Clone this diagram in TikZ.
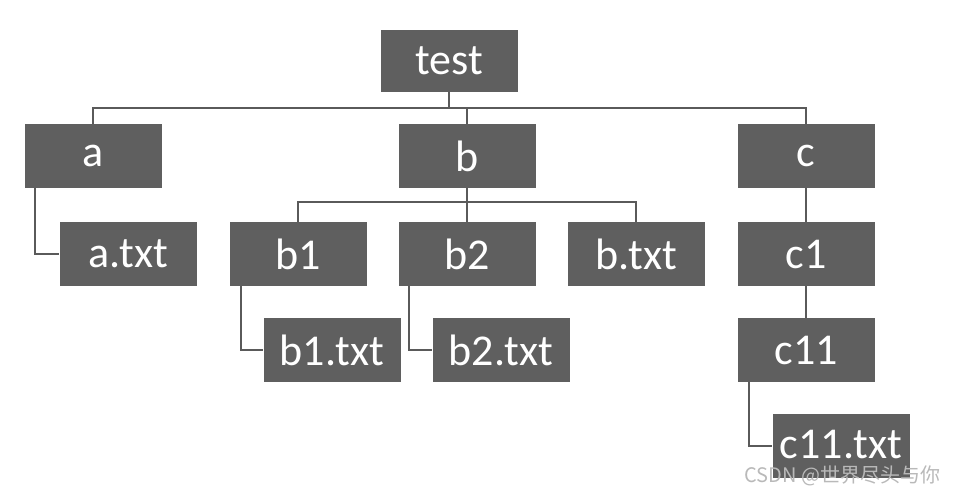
\documentclass[tikz,border=0pt]{standalone}
\usepackage{fontspec}
\setmainfont{Carlito}
\newfontfamily\cjkfont{Noto Sans CJK SC}
\definecolor{boxgray}{RGB}{95, 95, 95}
\definecolor{linegray}{RGB}{90, 90, 90}
\definecolor{markgray}{RGB}{185, 185, 185}
\usetikzlibrary{positioning}

\begin{document}
\begin{tikzpicture}[
        x=1pt, y=-1pt,
        box/.style={rectangle, fill=boxgray, text=white, minimum width=137pt,
                    minimum height=64pt, inner sep=0pt,
                    font=\fontsize{44}{48}\selectfont},
        link/.style={draw=linegray, line width=2pt}
      ]
        \useasboundingbox (0,0) rectangle (957,492);
        % top level
        \node[box, minimum height=62pt] (test) at (449,61) {test};
        \node[box] (a) at (93,156) {a};
        \node[box] (b) at (467,156) {b};
        \node[box] (c) at (806,156) {c};
        % second level
        \node[box] (atxt) at (128,254) {a.txt};
        \node[box] (b1) at (298,254) {b1};
        \node[box] (b2) at (467,254) {b2};
        \node[box] (btxt) at (636,254) {b.txt};
        \node[box] (c1) at (806,254) {c1};
        % third level
        \node[box] (b1txt) at (332,350) {b1.txt};
        \node[box] (b2txt) at (501,350) {b2.txt};
        \node[box] (c11) at (806,350) {c11};
        \node[box, text depth=4pt] (c11txt) at (841,446) {c11.txt};
        \node[font=\cjkfont\fontsize{20}{22}\selectfont, text=markgray, anchor=east] (mark) at (944,476) {CSDN @世界尽头与你};
        % connectors
        \draw[link] (test.south) -- ++(0,16) coordinate (bus) -| (a.north);
        \draw[link] (bus) -| (b.north);
        \draw[link] (bus) -| (c.north);
        \draw[link] (b.south) -- ++(0,14) coordinate (bbus) -| (b1.north);
        \draw[link] (bbus) -| (b2.north);
        \draw[link] (bbus) -| (btxt.north);
        \draw[link] ([xshift=11pt]a.south west) |- (atxt.west);
        \draw[link] ([xshift=12pt]b1.south west) |- (b1txt.west);
        \draw[link] ([xshift=11pt]b2.south west) |- (b2txt.west);
        \draw[link] (c) -- (c1);
        \draw[link] (c1) -- (c11);
        \draw[link] ([xshift=12pt]c11.south west) |- (c11txt.west);
      \end{tikzpicture}
\end{document}
